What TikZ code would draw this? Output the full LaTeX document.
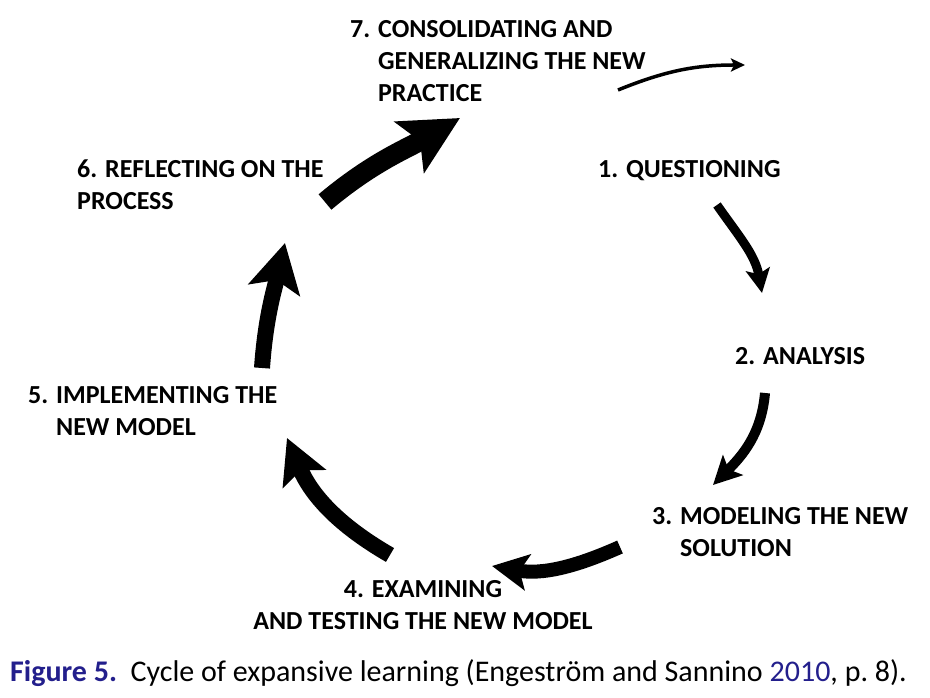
\documentclass[tikz,border=0pt]{standalone}
\usepackage{fontspec}
\setmainfont{Carlito}
\usepackage{xcolor}
\usetikzlibrary{arrows.meta,positioning}
\definecolor{captionblue}{RGB}{35,31,140}

\begin{document}
\begin{tikzpicture}[x=1pt,y=1pt]
  \tikzstyle{stage}=[font=\bfseries\fontsize{26}{32}\selectfont, inner sep=0pt, anchor=base west]
  \tikzstyle{flow}=[draw=black, line width=#1]
  \useasboundingbox (0,0) rectangle (930,698);

  % stages of the cycle
  \node[stage] (s7) at (350,660) {\begin{tabular}[t]{@{}l@{ }l@{}}7. & CONSOLIDATING AND\\ & GENERALIZING THE NEW\\ & PRACTICE\end{tabular}};
  \node[stage] (s1) at (598,520) {1. QUESTIONING};
  \node[stage] (s2) at (735,333) {2. ANALYSIS};
  \node[stage] (s3) at (652,173) {\begin{tabular}[t]{@{}l@{ }l@{}}3. & MODELING THE NEW\\ & SOLUTION\end{tabular}};
  \node[stage, anchor=base] (s4) at (423,100) {\begin{tabular}[t]{@{}c@{}}4. EXAMINING\\ AND TESTING THE NEW MODEL\end{tabular}};
  \node[stage] (s5) at (28,294) {\begin{tabular}[t]{@{}l@{ }l@{}}5. & IMPLEMENTING THE\\ & NEW MODEL\end{tabular}};
  \node[stage] (s6) at (77,520) {\begin{tabular}[t]{@{}l@{}}6. REFLECTING ON THE\\ PROCESS\end{tabular}};

  % arrow ends
  \coordinate (a1s) at (717,493); \coordinate (a1e) at (762,405);
  \coordinate (a2s) at (765,305); \coordinate (a2e) at (713,213);
  \coordinate (a3s) at (620,151); \coordinate (a3e) at (492,132);
  \coordinate (a4s) at (390,143); \coordinate (a4e) at (287,260);
  \coordinate (a5s) at (262,330); \coordinate (a5e) at (285,455);
  \coordinate (a6s) at (325,496); \coordinate (a6e) at (460,580);
  \coordinate (a7s) at (618,608); \coordinate (a7e) at (745,633);

  % the cycle
  \draw[flow=9pt, -{Stealth[length=24pt, width=24pt, inset=5pt]}] (a1s) to[out=-55, in=100] (a1e);
  \draw[flow=10pt, -{Stealth[length=28pt, width=28pt, inset=6pt]}] (a2s) to[out=-95, in=45] (a2e);
  \draw[flow=14pt, -{Stealth[length=36pt, width=36pt, inset=8pt]}] (a3s) to[out=-156, in=-10] (a3e);
  \draw[flow=16pt, -{Stealth[length=44pt, width=46pt, inset=9pt]}] (a4s) to[out=150, in=-67] (a4e);
  \draw[flow=16pt, -{Stealth[length=48pt, width=52pt, inset=10pt]}] (a5s) to[out=86, in=-103] (a5e);
  \draw[flow=20pt, -{Stealth[length=58pt, width=58pt, inset=12pt]}] (a6s) to[out=40, in=-150] (a6e);
  \draw[flow=3.5pt, -{Stealth[length=14pt, width=13pt, inset=3pt]}] (a7s) to[out=22, in=180] (a7e);

  % caption
  \node[inner sep=0pt, anchor=base west, font=\fontsize{30}{36}\selectfont] (cap) at (10,16)
    {{\color{captionblue}\bfseries Figure 5.}\ \ Cycle of expansive learning (Engeström and Sannino {\color{captionblue}2010}, p.~8).};
\end{tikzpicture}
\end{document}
